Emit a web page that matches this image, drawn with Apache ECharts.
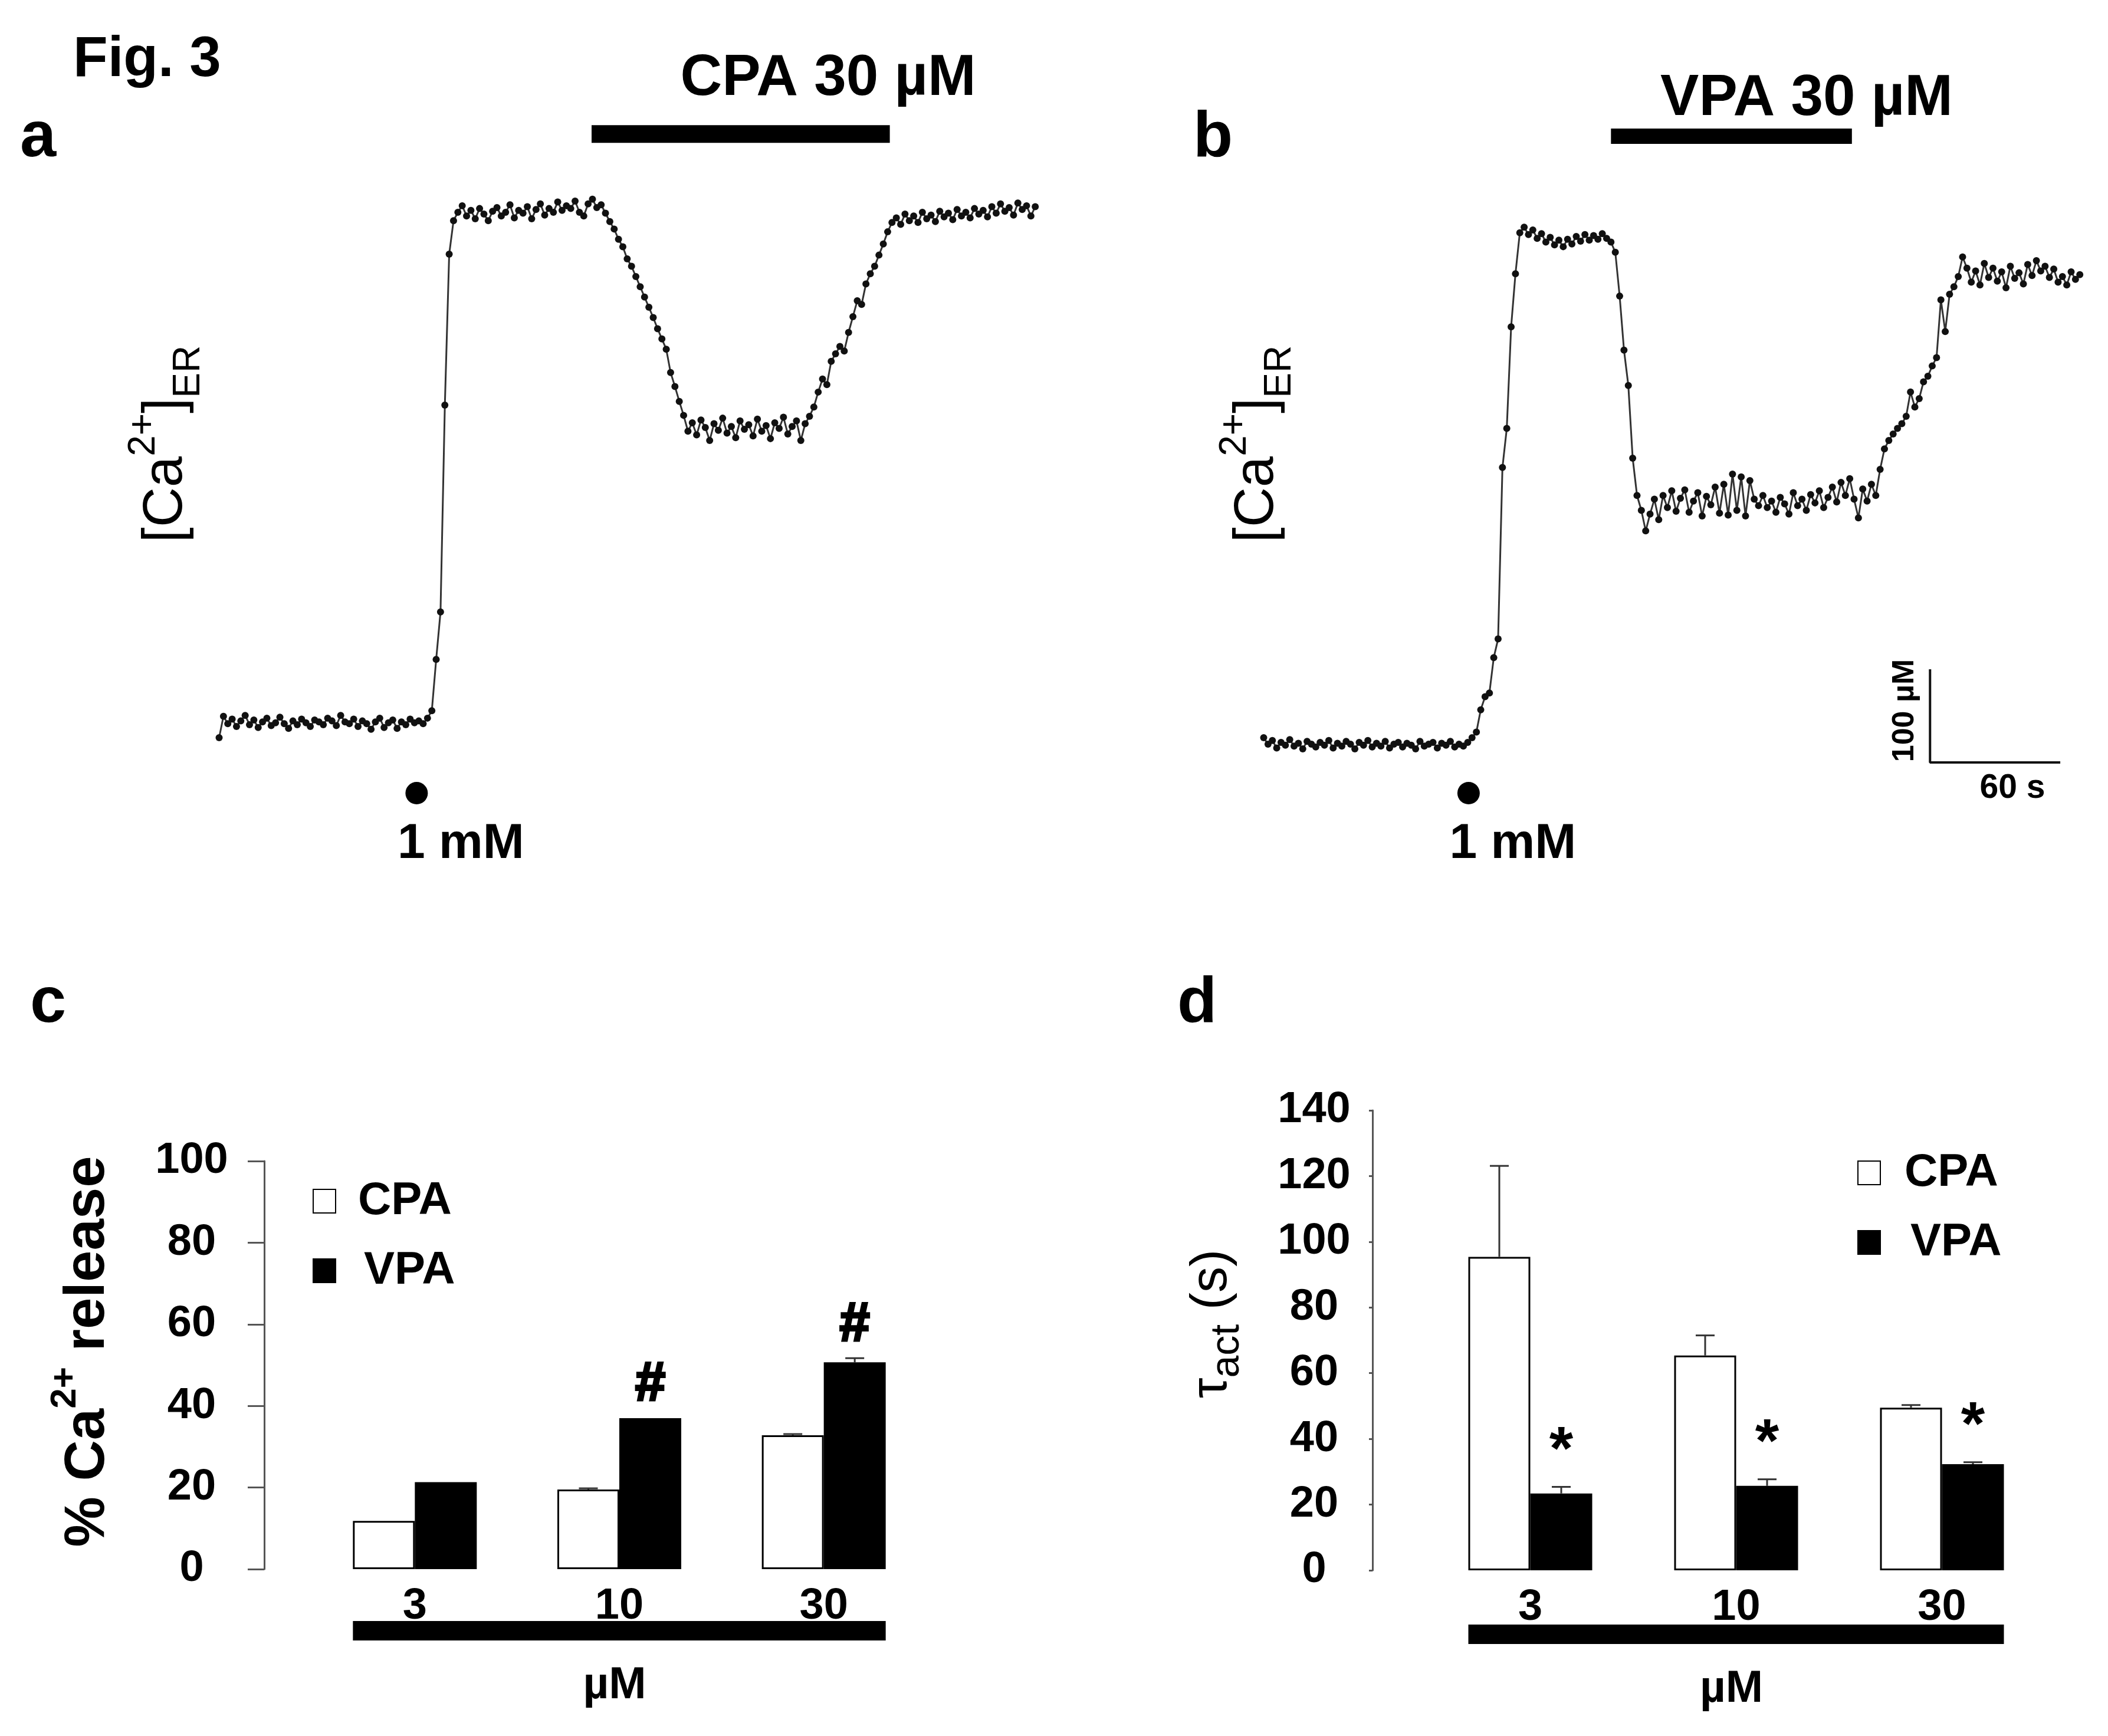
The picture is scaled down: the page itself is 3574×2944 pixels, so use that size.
<!DOCTYPE html>
<html>
<head>
<meta charset="utf-8">
<title>Fig. 3</title>
<script src="https://cdn.jsdelivr.net/npm/echarts@6/dist/echarts.min.js"></script>
<style>
  html, body { margin: 0; padding: 0; background: #fff; }
  #chart { width: 3574px; height: 2944px; }
</style>
</head>
<body>
<div id="chart"></div>
<script>
// ---- data ----
var sampleInterval = 2; // s between samples of the [Ca2+]ER traces

// panel a: [Ca2+]ER (uM), CPA 30 uM applied
var traceCPA = [
  43, 66, 58, 63, 55, 61, 67, 57, 62, 54,
  60, 64, 56, 59, 65, 58, 53, 61, 57, 63,
  59, 55, 62, 60, 57, 64, 61, 56, 67, 60,
  58, 63, 55, 61, 58, 52, 60, 64, 54, 59,
  62, 53, 60, 57, 63, 59, 61, 58, 64, 72,
  127, 178, 400, 562, 598, 607, 614, 603, 609, 600,
  611, 605, 598, 608, 612, 603, 607, 615, 601, 609,
  606, 613, 600, 610, 616, 604, 611, 607, 618, 609,
  614, 611, 619, 607, 603, 616, 621, 612, 615, 606,
  597, 589, 578, 570, 557, 549, 538, 527, 516, 505,
  494, 482, 471, 460, 435, 420, 404, 389, 372, 381,
  368, 384, 376, 362, 380, 373, 386, 370, 377, 365,
  383, 374, 379, 367, 385, 372, 378, 364, 381, 375,
  387, 369, 377, 383, 362, 380, 388, 398, 414, 428,
  422, 447, 455, 463, 458, 478, 495, 512, 508, 530,
  541, 549, 561, 573, 586, 596, 601, 594, 605, 598,
  603, 596, 607, 600, 604, 597, 608, 602, 606, 599,
  610, 603, 607, 601, 611, 605, 609, 602, 613, 606,
  616, 608, 612, 604, 617, 610, 614, 603, 613
];

// panel b: [Ca2+]ER (uM), VPA 30 uM applied
var traceVPA = [
  62, 55, 59, 51, 57, 54, 60, 53, 56, 50,
  58, 55, 52, 57, 54, 59, 51, 56, 53, 58,
  55, 50, 57, 54, 59, 52, 56, 53, 58, 51,
  55, 57, 52, 56, 54, 50, 58, 53, 55, 57,
  51, 56, 54, 58, 52, 55, 53, 57, 62, 68,
  92, 106, 110, 148, 168, 352, 394, 503, 560, 604,
  610, 602, 607, 598, 603, 594, 599, 591, 596, 589,
  597, 592, 600, 595, 602, 596, 601, 597, 603, 598,
  594, 583, 536, 478, 440, 362, 322, 306, 284, 302,
  318, 296, 322, 309, 327, 305, 319, 328, 304, 316,
  325, 300, 321, 312, 331, 303, 334, 301, 345, 306,
  342, 300, 338, 318, 311, 322, 309, 316, 304, 320,
  313, 302, 325, 311, 318, 306, 323, 314, 327, 309,
  320, 331, 315, 336, 322, 340, 318, 298, 329, 316,
  334, 322, 350, 372, 381, 388, 394, 399, 407, 433,
  417, 426, 444, 450, 461, 470, 532, 498, 538, 546,
  557, 578, 566, 551, 563, 548, 571, 556, 566, 552,
  562, 545, 568, 555, 561, 549, 570, 558, 574, 563,
  568, 556, 565, 551, 557, 548, 562, 554, 559
];

var cpaWindow = [171.6, 309];   // s, drug application bar (panel a)
var vpaWindow = [160, 271];     // s, drug application bar (panel b)
var caAddition = [91, 94.4];    // s, 1 mM Ca2+ added (a, b)
var scaleBarTime = 60;          // s
var scaleBarConc = 100;         // uM

// panels c and d
var doseLabels = ['3', '10', '30'];
var releaseCPA = [11.8, 19.5, 32.8];
var releaseCPAErr = [0, 0.3, 0.3];
var releaseVPA = [21.3, 37.0, 50.7];
var releaseVPAErr = [0, 0, 1.0];
var releaseMarks = ['', '#', '#'];
var tauCPA = [95.4, 65.4, 49.5];
var tauCPAErr = [27.7, 6.1, 0.8];
var tauVPA = [23.4, 25.7, 32.3];
var tauVPAErr = [2.0, 2.0, 0.6];
var tauMarks = ['*', '*', '*'];

// ---- drawing ----
var FONT = '"Liberation Sans", Arial, sans-serif';
var BAR_W = 105;

function timePairs(values) {
  return values.map(function (v, i) { return [i * sampleInterval, v]; });
}

function traceSeries(idx, values) {
  return {
    type: 'line', xAxisIndex: idx, yAxisIndex: idx, data: timePairs(values),
    symbol: 'circle', symbolSize: 12, showAllSymbol: true, z: 3,
    itemStyle: { color: '#111' },
    lineStyle: { color: '#333', width: 3 }
  };
}

function drugBarSeries(idx, win, level, width) {
  return {
    type: 'line', xAxisIndex: idx, yAxisIndex: idx,
    data: [[win[0], level], [win[1], level]],
    symbol: 'none', lineStyle: { color: '#000', width: width, cap: 'butt' }
  };
}

function additionSeries(idx, t, level) {
  return {
    type: 'scatter', xAxisIndex: idx, yAxisIndex: idx, data: [[t, level]],
    symbolSize: 38, itemStyle: { color: '#000', opacity: 1 },
    label: {
      show: true, formatter: '1 mM', position: 'bottom', distance: 26, offset: [75, 0],
      fontFamily: FONT, fontWeight: 'bold', fontSize: 84, color: '#000'
    }
  };
}

function barSeries(name, idx, values, fill) {
  return {
    name: name, type: 'bar', xAxisIndex: idx, yAxisIndex: idx, data: values,
    barWidth: BAR_W, barGap: '0%',
    itemStyle: { color: fill, borderColor: '#000', borderWidth: 3 }
  };
}

// upward error bars plus significance marks
function errorSeries(idx, values, errs, side, marks, markGap, markSize) {
  return {
    type: 'custom', xAxisIndex: idx, yAxisIndex: idx, z: 5, silent: true,
    data: values.map(function (v, i) { return [i, v, errs[i]]; }),
    renderItem: function (params, api) {
      var base = api.coord([api.value(0), api.value(1)]);
      var top = api.coord([api.value(0), api.value(1) + api.value(2)]);
      var x = base[0] + side * BAR_W / 2;
      var kids = [];
      if (api.value(2) > 0) {
        kids.push({ type: 'line', shape: { x1: x, y1: base[1], x2: x, y2: top[1] },
          style: { stroke: '#333', lineWidth: 3 } });
        kids.push({ type: 'line', shape: { x1: x - 16, y1: top[1], x2: x + 16, y2: top[1] },
          style: { stroke: '#333', lineWidth: 3 } });
      }
      var mark = marks ? marks[params.dataIndex] : '';
      if (mark) {
        kids.push({ type: 'text', style: {
          text: mark, x: x, y: top[1] - markGap, align: 'center', verticalAlign: 'middle',
          fontFamily: FONT, fontWeight: 'bold', fontSize: markSize, fill: '#000',
          stroke: '#000', lineWidth: mark === '#' ? 4 : 0 } });
      }
      return { type: 'group', children: kids };
    }
  };
}

// thick concentration bar and "uM" beneath a bar panel
function doseBarSeries(idx, drop) {
  return {
    type: 'custom', xAxisIndex: idx, yAxisIndex: idx, silent: true, data: [[0, 0]],
    renderItem: function (params, api) {
      var first = api.coord([0, 0]);
      var last = api.coord([doseLabels.length - 1, 0]);
      var x0 = first[0] - BAR_W, x1 = last[0] + BAR_W;
      return { type: 'group', children: [
        { type: 'rect', shape: { x: x0, y: first[1] + drop, width: x1 - x0, height: 33 },
          style: { fill: '#000' } },
        { type: 'text', style: { text: '\u00b5M', x: (x0 + x1) / 2 - 8, y: first[1] + drop + 110,
          align: 'center', verticalAlign: 'middle', fontFamily: FONT, fontWeight: 'bold',
          fontSize: 76, fill: '#000' } }
      ] };
    }
  };
}

function traceAxes(idx) {
  return {
    x: { type: 'value', gridIndex: idx, min: 0, max: 376, show: false },
    y: { type: 'value', gridIndex: idx, min: -120, max: 760, show: false }
  };
}

function barYAxis(idx, max, offset, tickLen, margin) {
  return {
    type: 'value', gridIndex: idx, min: 0, max: max, interval: 20, offset: offset,
    splitLine: { show: false },
    axisLine: { show: true, lineStyle: { color: '#555', width: 3 } },
    axisTick: { show: true, length: tickLen, lineStyle: { color: '#555', width: 3 } },
    axisLabel: { margin: margin, align: 'center', fontFamily: FONT, fontWeight: 'bold',
      fontSize: 74, color: '#000' }
  };
}

function barXAxis(idx) {
  return {
    type: 'category', gridIndex: idx, data: doseLabels,
    axisLine: { show: false }, axisTick: { show: false },
    axisLabel: { margin: 27, fontFamily: FONT, fontWeight: 'bold', fontSize: 74, color: '#000' }
  };
}

function legendAt(left, top, gap, pad) {
  return {
    orient: 'vertical', left: left, top: top, itemWidth: 38, itemHeight: 40, itemGap: gap,
    icon: 'rect', selectedMode: false,
    data: [
      { name: 'CPA' },
      { name: 'VPA', textStyle: { padding: [0, 0, 0, pad + 10] } }
    ],
    textStyle: { fontFamily: FONT, fontWeight: 'bold', fontSize: 78, lineHeight: 76,
      color: '#000', padding: [0, 0, 0, pad] }
  };
}

function label(text, x, y, size, opts) {
  opts = opts || {};
  return {
    type: 'text', x: x, y: y, rotation: opts.rotation || 0, silent: true,
    style: {
      text: text, rich: opts.rich, align: opts.align || 'left', verticalAlign: 'middle',
      fontFamily: FONT, fontWeight: opts.weight || 'bold', fontSize: size, fill: '#000'
    }
  };
}

var caRich = {
  m: { fontFamily: FONT, fontSize: 94, lineHeight: 140, verticalAlign: 'middle' },
  s: { fontFamily: FONT, fontSize: 64, lineHeight: 84, verticalAlign: 'top' },
  e: { fontFamily: FONT, fontSize: 64, lineHeight: 76, verticalAlign: 'bottom' }
};
var releaseRich = {
  m: { fontFamily: FONT, fontWeight: 'bold', fontSize: 96, lineHeight: 140, verticalAlign: 'middle' },
  s: { fontFamily: FONT, fontWeight: 'bold', fontSize: 62, lineHeight: 84, verticalAlign: 'top' }
};
var tauRich = {
  m: { fontFamily: FONT, fontSize: 88, lineHeight: 120, verticalAlign: 'middle' },
  e: { fontFamily: FONT, fontSize: 68, lineHeight: 70, verticalAlign: 'bottom' }
};

var axA = traceAxes(0), axB = traceAxes(1);

var option = {
  animation: false,
  backgroundColor: '#fff',
  grid: [
    { left: 371.5, top: 118.2, width: 1383.7, height: 1390.4 },
    { left: 2142.5, top: 148.2, width: 1383.7, height: 1390.4 },
    { left: 530, top: 1969, width: 1040, height: 692 },
    { left: 2420, top: 1883, width: 1047, height: 780 }
  ],
  xAxis: [axA.x, axB.x, barXAxis(2), barXAxis(3)],
  yAxis: [axA.y, axB.y, barYAxis(2, 100, 82, 28, 123), barYAxis(3, 140, 93, 6, 99)],
  legend: [legendAt(525, 1993, 40, 33), legendAt(3144, 1945, 40, 36)],
  series: [
    traceSeries(0, traceCPA),
    drugBarSeries(0, cpaWindow, 691, 30),
    additionSeries(0, caAddition[0], -16.5),
    traceSeries(1, traceVPA),
    drugBarSeries(1, vpaWindow, 707.6, 26),
    additionSeries(1, caAddition[1], 2.5),
    {
      type: 'line', xAxisIndex: 1, yAxisIndex: 1, symbol: 'none',
      data: [[307, 35.4 + scaleBarConc], [307, 35.4], [307 + scaleBarTime, 35.4]],
      lineStyle: { color: '#111', width: 4 }
    },
    barSeries('CPA', 2, releaseCPA, '#fff'),
    barSeries('VPA', 2, releaseVPA, '#000'),
    errorSeries(2, releaseCPA, releaseCPAErr, -1, null, 0, 0),
    errorSeries(2, releaseVPA, releaseVPAErr, 1, releaseMarks, 56, 92),
    doseBarSeries(2, 88),
    barSeries('CPA', 3, tauCPA, '#fff'),
    barSeries('VPA', 3, tauVPA, '#000'),
    errorSeries(3, tauCPA, tauCPAErr, -1, null, 0, 0),
    errorSeries(3, tauVPA, tauVPAErr, 1, tauMarks, 58, 104),
    doseBarSeries(3, 92)
  ],
  graphic: [
    label('Fig. 3', 124, 103, 96),
    label('a', 34, 235, 110),
    label('b', 2023, 235, 110),
    label('c', 51, 1703, 110),
    label('d', 1996, 1703, 110),
    label('CPA 30 \u00b5M', 1404, 134, 98, { align: 'center' }),
    label('VPA 30 \u00b5M', 3063, 168, 98, { align: 'center' }),
    label('{m|[Ca}{s|2+}{m|]}{e|ER}', 282, 753, 94,
      { align: 'center', rotation: Math.PI / 2, rich: caRich, weight: 'normal' }),
    label('{m|[Ca}{s|2+}{m|]}{e|ER}', 2132, 753, 94,
      { align: 'center', rotation: Math.PI / 2, rich: caRich, weight: 'normal' }),
    label('100 \u00b5M', 3230, 1205, 52, { align: 'center', rotation: Math.PI / 2 }),
    label('60 s', 3412, 1337, 57, { align: 'center' }),
    label('{m|% Ca}{s|2+}{m| release}', 150, 2292, 96,
      { align: 'center', rotation: Math.PI / 2, rich: releaseRich }),
    label('{m|\u03c4}{e|act}{m| (s)}', 2055, 2245, 88,
      { align: 'center', rotation: Math.PI / 2, rich: tauRich, weight: 'normal' })
  ]
};

var chart = echarts.init(document.getElementById('chart'));
chart.setOption(option);
</script>
</body>
</html>
